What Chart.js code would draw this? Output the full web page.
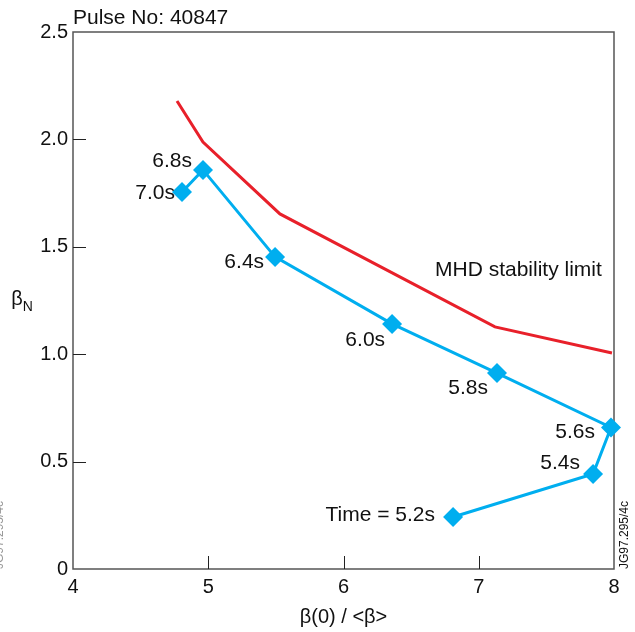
<!DOCTYPE html>
<html>
<head>
<meta charset="utf-8">
<script src="https://cdn.jsdelivr.net/npm/chart.js@4/dist/chart.umd.min.js"></script>
<style>
  html, body { margin: 0; padding: 0; background: #fff; }
  #betaChart { display: block; }
</style>
</head>
<body>
<canvas id="betaChart" width="635" height="632"></canvas>
<script>
// pulse data: normalised beta against pressure peaking
const pulseNo = "40847";
const trackTimes = ["Time = 5.2s", "5.4s", "5.6s", "5.8s", "6.0s", "6.4s", "6.8s", "7.0s"];
const trackPeaking = [6.81, 7.845, 7.978, 7.135, 6.359, 5.494, 4.961, 4.806];
const trackBetaN = [0.242, 0.442, 0.659, 0.912, 1.141, 1.453, 1.858, 1.755];

// MHD stability limit
const limitPeaking = [4.769, 4.961, 5.530, 7.120, 7.985];
const limitBetaN = [2.179, 1.988, 1.653, 1.127, 1.006];

const xTicks = [4, 5, 6, 7, 8];
const yTicks = [0, 0.5, 1.0, 1.5, 2.0, 2.5];
const limitLabel = "MHD stability limit";
const figureRef = "JG97.295/4c";

// where each time label sits relative to its marker (right edge, middle)
const labelOffsets = [[-18, -2], [-13, -11], [-16, 5], [-9, 15], [-7, 16], [-11, 5], [-11, -9], [-7, 1]];

const FONT = "'Liberation Sans', Arial, sans-serif";
const BLUE = "#00aeef";
const RED = "#e8202a";

function toPoints(xs, ys) {
    return xs.map((x, i) => ({ x: x, y: ys[i] }));
}

const framePlugin = {
    id: "frame",
    beforeDatasetsDraw(chart) {
        const ctx = chart.ctx;
        const a = chart.chartArea;
        const xs = chart.scales.x;
        const ys = chart.scales.y;
        ctx.save();
        ctx.strokeStyle = "#555";
        ctx.lineWidth = 1.5;
        ctx.strokeRect(a.left, a.top, a.right - a.left, a.bottom - a.top);

        // inward tick marks
        ctx.strokeStyle = "#222";
        ctx.lineWidth = 1;
        ctx.beginPath();
        xTicks.slice(1, -1).forEach(v => {
            const px = Math.round(xs.getPixelForValue(v)) + 0.5;
            ctx.moveTo(px, a.bottom);
            ctx.lineTo(px, a.bottom - 13);
        });
        yTicks.slice(1, -1).forEach(v => {
            const py = Math.round(ys.getPixelForValue(v)) + 0.5;
            ctx.moveTo(a.left, py);
            ctx.lineTo(a.left + 13, py);
        });
        ctx.stroke();
        ctx.restore();
    },
    afterDraw(chart) {
        const ctx = chart.ctx;
        const a = chart.chartArea;
        const xs = chart.scales.x;
        const ys = chart.scales.y;
        ctx.save();
        ctx.fillStyle = "#111";

        // time labels beside the markers
        ctx.font = "21px " + FONT;
        ctx.textAlign = "right";
        ctx.textBaseline = "middle";
        trackTimes.forEach((t, i) => {
            const px = xs.getPixelForValue(trackPeaking[i]);
            const py = ys.getPixelForValue(trackBetaN[i]);
            ctx.fillText(t, px + labelOffsets[i][0], py + labelOffsets[i][1]);
        });

        ctx.textAlign = "left";
        ctx.fillText(limitLabel, 435, 270);

        // heading
        ctx.font = "21px " + FONT;
        ctx.textBaseline = "alphabetic";
        ctx.fillText("Pulse No: " + pulseNo, a.left, 24);

        // x title
        ctx.font = "20px " + FONT;
        ctx.textAlign = "center";
        ctx.fillText("\u03b2(0) / <\u03b2>", (a.left + a.right) / 2, 623);

        // y title: beta with subscript N
        ctx.textAlign = "left";
        ctx.font = "20px " + FONT;
        const wb = ctx.measureText("\u03b2").width;
        ctx.font = "14px " + FONT;
        const wn = ctx.measureText("N").width;
        const tx = 22 - (wb + wn) / 2;
        const ty = (a.top + a.bottom) / 2 + 4;
        ctx.font = "20px " + FONT;
        ctx.fillText("\u03b2", tx, ty);
        ctx.font = "14px " + FONT;
        ctx.fillText("N", tx + wb, ty + 6);

        // figure reference, vertical at the right edge
        ctx.save();
        ctx.font = "12px " + FONT;
        ctx.translate(628, a.bottom);
        ctx.rotate(-Math.PI / 2);
        ctx.fillText(figureRef, 0, 0);
        ctx.restore();

        // same reference, mostly cut off at the left edge
        ctx.save();
        ctx.font = "12px " + FONT;
        ctx.fillStyle = "#999";
        ctx.translate(3, a.bottom);
        ctx.rotate(-Math.PI / 2);
        ctx.fillText(figureRef, 0, 0);
        ctx.restore();

        ctx.restore();
    }
};

const ctx1 = document.getElementById("betaChart").getContext("2d");
new Chart(ctx1, {
    type: "scatter",
    data: {
        datasets: [{
            label: "MHD stability limit",
            data: toPoints(limitPeaking, limitBetaN),
            showLine: true,
            borderColor: RED,
            borderWidth: 3,
            pointRadius: 0,
            clip: false
        }, {
            label: "Pulse " + pulseNo,
            data: toPoints(trackPeaking, trackBetaN),
            showLine: true,
            borderColor: BLUE,
            borderWidth: 3,
            backgroundColor: BLUE,
            pointStyle: "rectRot",
            pointRadius: 10,
            pointBorderWidth: 0,
            clip: false
        }]
    },
    options: {
        responsive: false,
        animation: false,
        events: [],
        layout: { padding: { left: 0, top: 32, right: 21, bottom: 0 } },
        plugins: {
            legend: { display: false },
            tooltip: { enabled: false }
        },
        scales: {
            x: {
                type: "linear",
                min: 4,
                max: 8,
                afterBuildTicks: s => { s.ticks = xTicks.map(v => ({ value: v })); },
                afterFit: s => { s.height = 63; },
                grid: { display: false, drawTicks: false },
                border: { display: false },
                ticks: {
                    color: "#111",
                    font: { family: FONT, size: 20 },
                    padding: 6,
                    maxRotation: 0
                }
            },
            y: {
                type: "linear",
                min: 0,
                max: 2.5,
                afterBuildTicks: s => { s.ticks = yTicks.map(v => ({ value: v })); },
                afterFit: s => { s.width = 73; },
                grid: { display: false, drawTicks: false },
                border: { display: false },
                ticks: {
                    color: "#111",
                    font: { family: FONT, size: 20 },
                    padding: 5,
                    callback: v => v === 0 ? "0" : v.toFixed(1)
                }
            }
        }
    },
    plugins: [framePlugin]
});
</script>
</body>
</html>
